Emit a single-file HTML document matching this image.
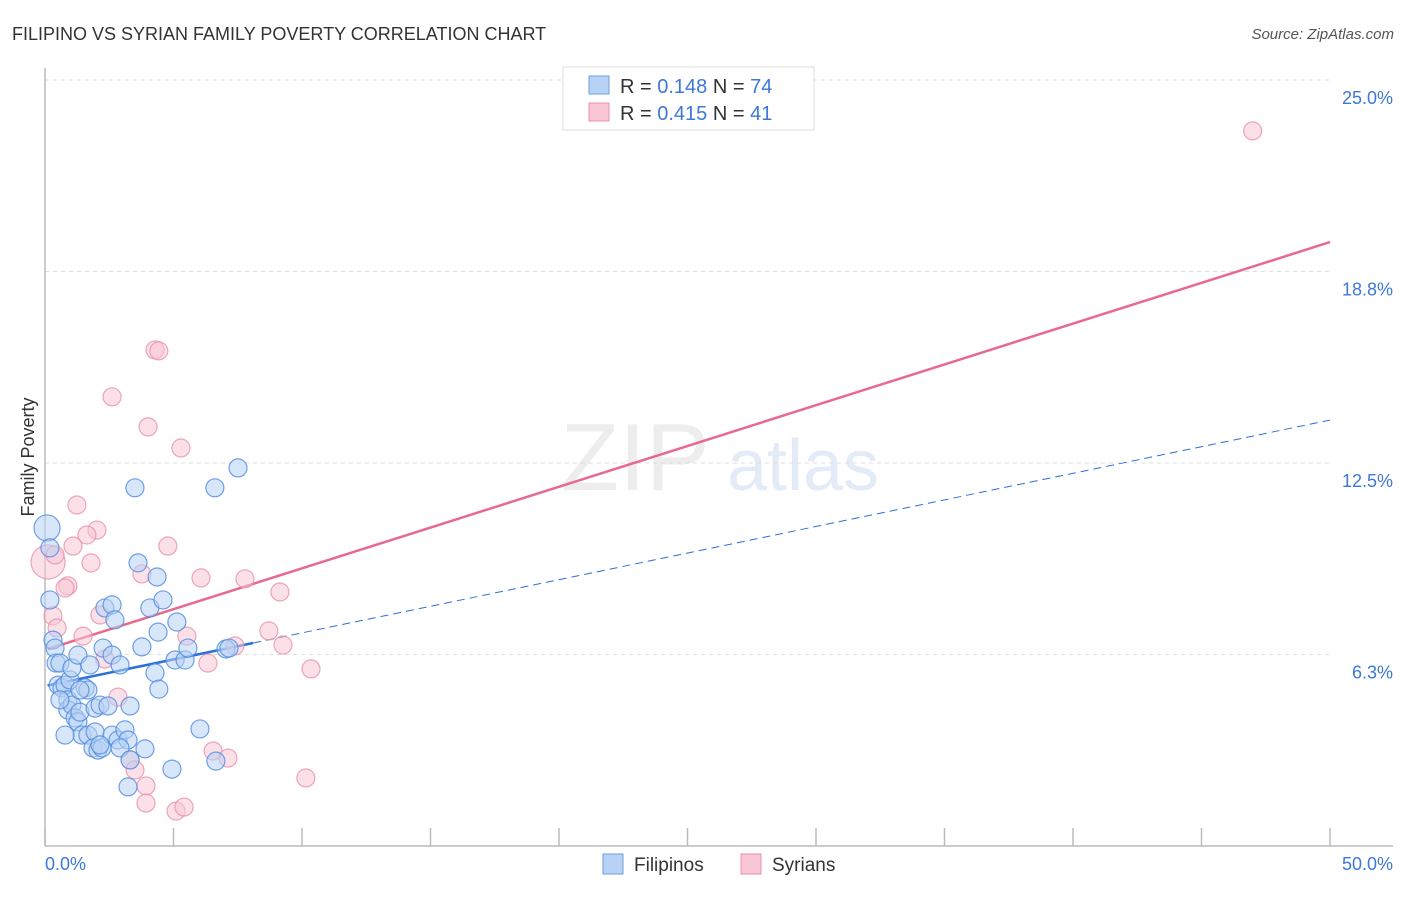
<!DOCTYPE html>
<html><head><meta charset="utf-8"><style>
body{margin:0;background:#fff;font-family:"Liberation Sans",sans-serif;}
svg text{font-family:"Liberation Sans",sans-serif;}
</style></head><body>
<svg id="chart" width="1406" height="892" xmlns="http://www.w3.org/2000/svg">
<text x="12" y="40" font-size="18" fill="#333">FILIPINO VS SYRIAN FAMILY POVERTY CORRELATION CHART</text>
<text x="1394" y="39" font-size="15" fill="#555" font-style="italic" text-anchor="end">Source: ZipAtlas.com</text>
<g opacity="0.5">
<text x="635" y="490" font-size="96" fill="#ddd" font-family="Liberation Serif" text-anchor="middle">ZIP</text>
<text x="803" y="490" font-size="72" fill="#c8d8ef" text-anchor="middle">atlas</text>
</g>
<text transform="translate(34,457) rotate(-90)" font-size="18" fill="#333" text-anchor="middle">Family Poverty</text>
<g id="grid"></g><g id="axes"></g><g id="lines"></g><g id="points"></g>
<g>
<rect x="563" y="67" width="251" height="63" fill="#fff" stroke="#ddd"/>
<rect x="589" y="76" width="20" height="18" fill="#b7d2f4" stroke="#6a9fe0"/>
<text x="620" y="93" font-size="20" fill="#333">R = <tspan fill="#3d78d8">0.148</tspan>   N = <tspan fill="#3d78d8">74</tspan></text>
<rect x="589" y="103" width="20" height="18" fill="#f8c6d5" stroke="#e890ab"/>
<text x="620" y="120" font-size="20" fill="#333">R = <tspan fill="#3d78d8">0.415</tspan>   N = <tspan fill="#3d78d8">41</tspan></text>
</g>
<g>
<rect x="603" y="854" width="20" height="20" fill="#b7d2f4" stroke="#6a9fe0"/>
<text x="634" y="871" font-size="19" fill="#333">Filipinos</text>
<rect x="741" y="854" width="20" height="20" fill="#f8c6d5" stroke="#e890ab"/>
<text x="772" y="871" font-size="19" fill="#333">Syrians</text>
</g>
</svg>
<script>
const yTicks=[6.25,12.5,18.75,25];
const yTickLabels=["6.3%","12.5%","18.8%","25.0%"];
const xTicks=[0,5,10,15,20,25,30,35,40,45,50];
const xEndLabels=["0.0%","50.0%"];
const blueX=[0.08,0.19,0.19,0.31,0.39,0.43,0.58,0.51,0.66,0.78,0.97,1.05,0.89,0.89,1.05,1.17,1.28,1.36,1.28,1.56,1.67,1.75,1.44,1.67,1.95,1.87,2.06,2.22,1.95,2.14,2.45,2.33,2.61,2.72,2.26,2.61,2.92,3.50,3.62,4.08,4.36,4.59,4.40,3.77,4.28,4.43,3.31,2.61,2.84,3.11,3.23,2.92,3.31,3.89,4.94,3.23,5.13,5.06,5.45,5.56,6.03,6.61,7.51,7.04,7.16,6.65,0.58,2.14,0.78,1.36];
const blueY=[10.38,9.73,8.03,6.72,6.46,5.97,5.97,5.25,5.16,5.25,5.42,5.81,4.77,4.44,4.60,4.18,4.05,4.37,6.23,5.16,5.09,5.91,3.62,3.62,3.72,3.20,3.13,3.20,4.50,4.60,4.57,7.77,7.87,7.38,6.46,6.23,5.91,11.69,9.24,7.77,8.78,8.03,6.98,6.50,5.65,5.12,4.57,3.62,3.46,3.79,3.46,3.20,2.81,3.17,2.51,1.93,7.31,6.07,6.07,6.46,3.82,11.69,12.34,6.43,6.46,2.77,4.77,3.30,3.62,5.09];
const pinkX=[46.99,4.28,4.43,2.61,4.01,5.29,1.24,2.02,1.63,1.09,4.78,1.79,0.12,3.77,0.89,0.78,6.07,7.78,9.14,0.31,0.47,2.14,1.48,5.52,8.71,9.26,7.39,6.34,10.35,2.33,2.84,6.54,7.12,3.31,3.50,3.93,10.15,3.93,5.10,5.41,0.39];
const pinkY=[23.34,16.19,16.16,14.66,13.68,12.99,11.13,10.31,10.15,9.79,9.79,9.24,9.27,8.88,8.49,8.42,8.75,8.72,8.29,7.51,7.12,7.54,6.85,6.85,7.02,6.56,6.53,5.97,5.78,6.10,4.86,3.10,2.87,2.81,2.48,1.96,2.22,1.40,1.14,1.27,9.50];
const blueTrend=[5.22,13.9];
const pinkTrend=[6.4,19.71];
const blueSolidEnd=8.1;
const NS="http://www.w3.org/2000/svg";
const X0=45,X1=1330,Y0=846,Y1=80;
const sx=v=>X0+(v/50)*(X1-X0);
const sy=v=>Y0-(v/25)*(Y0-Y1);
function mk(t,a,p){const e=document.createElementNS(NS,t);for(const k in a)e.setAttribute(k,a[k]);p.appendChild(e);return e;}
const grid=document.getElementById('grid'),axes=document.getElementById('axes'),lines=document.getElementById('lines'),pts=document.getElementById('points');
yTicks.forEach((t,i)=>{
 const l=mk('line',{x1:X0,x2:X1,y1:sy(t),y2:sy(t),stroke:'#ddd','stroke-dasharray':'4,4'},grid);
 
 
 const tx=mk('text',{x:1393,y:sy(t)+24,'font-size':18,fill:'#3d78d8','text-anchor':'end'},axes);
 tx.textContent=yTickLabels[i];
 
 
});
const ya=mk('line',{x1:X0,x2:X0,y1:68,y2:Y0,stroke:'#bbb','stroke-width':1.5},axes);


const xa=mk('line',{x1:X0,x2:1393,y1:Y0,y2:Y0,stroke:'#bbb','stroke-width':1.5},axes);


xTicks.forEach(t=>{
 const l=mk('line',{x1:sx(t),x2:sx(t),y1:828,y2:Y0,stroke:'#bbb','stroke-width':1.5},axes);
 
 
});
[[0,'start',45],[50,'end',1393]].forEach((d,i)=>{
 const tx=mk('text',{x:d[2],y:870,'font-size':18,fill:'#3d78d8','text-anchor':d[1]},axes);
 tx.textContent=xEndLabels[i];
 
 
});
function drawPts(xs,ys,fill,stroke,name,bigIdx,bigR){
 xs.forEach((x,i)=>{
  const r=(i===bigIdx)?bigR:9;
  const c=mk('circle',{cx:sx(x),cy:sy(ys[i]),r:r,fill:fill,'fill-opacity':0.55,stroke:stroke,'stroke-width':1.2,'stroke-opacity':0.8},pts);
  
  
 });
}
drawPts(pinkX,pinkY,'#f8c6d5','#e890ab','syrian-point',12,17);
drawPts(blueX,blueY,'#b7d2f4','#4f8ae0','filipino-point',0,13);
const lerp=(a,x)=>a[0]+(a[1]-a[0])*x/50;
const bs=mk('line',{x1:sx(0.1),y1:sy(lerp(blueTrend,0.1)),x2:sx(blueSolidEnd),y2:sy(lerp(blueTrend,blueSolidEnd)),stroke:'#2c6fd8','stroke-width':2.5},lines);


const bd=mk('line',{x1:sx(blueSolidEnd),y1:sy(lerp(blueTrend,blueSolidEnd)),x2:sx(50),y2:sy(lerp(blueTrend,50)),stroke:'#2c6fd8','stroke-width':1,'stroke-dasharray':'8,5'},lines);


const pl=mk('line',{x1:sx(0.1),y1:sy(lerp(pinkTrend,0.1)),x2:sx(50),y2:sy(lerp(pinkTrend,50)),stroke:'#e8698f','stroke-width':2.5},lines);


</script>
</body></html>
